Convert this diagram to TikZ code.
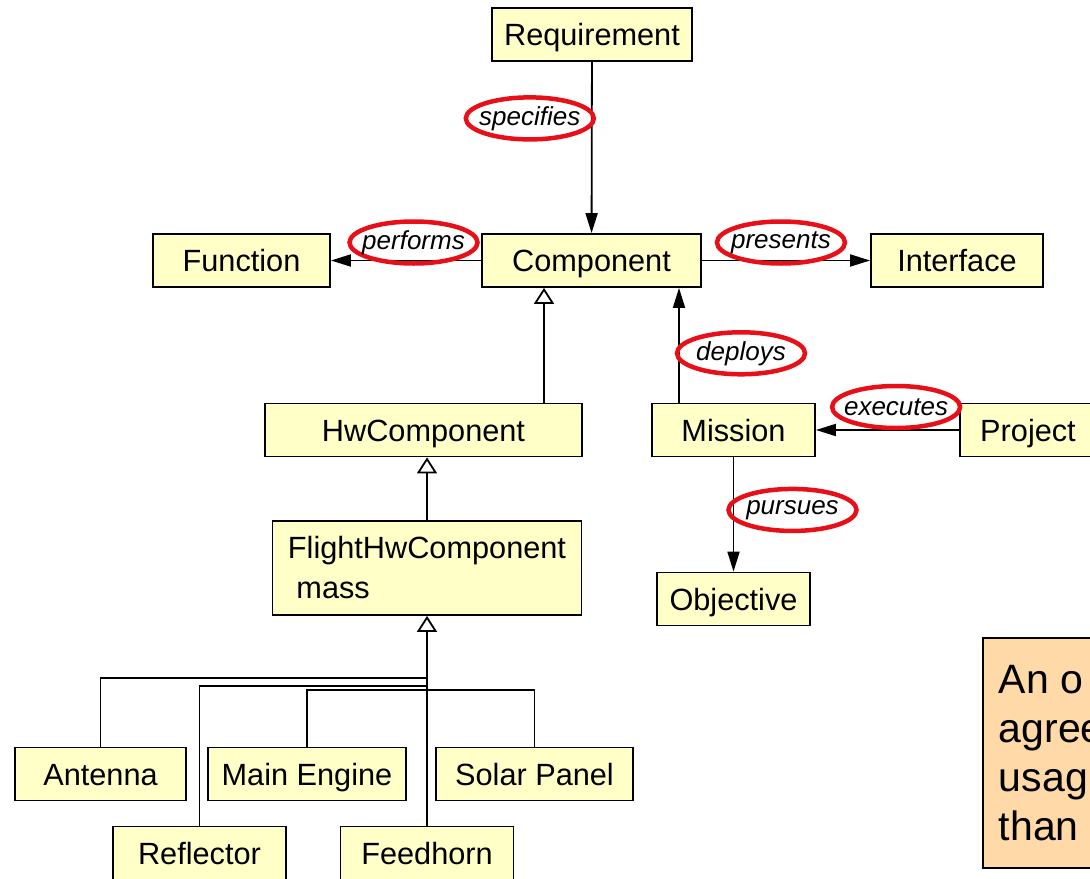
\documentclass[tikz,border=0pt]{standalone}
\usepackage{fontspec}
\setmainfont{Liberation Sans}
\usetikzlibrary{arrows.meta,shapes.geometric}
\definecolor{clsfill}{RGB}{255,255,200}
\definecolor{notefill}{RGB}{255,217,168}
\definecolor{tagred}{RGB}{232,16,24}

\begin{document}
\begin{tikzpicture}[%
		x=1bp, y=-1bp,
		line width=1.8bp,
		assoc/.style={-{Triangle[length=20bp,width=12bp]}},
		gen/.style={-{Triangle[open,length=16bp,width=20bp,fill=white]}},
		cls/.style={%
			draw,
			fill=clsfill,
			minimum height=53bp,
			inner sep=0pt,
			text height=22bp,
			text depth=0pt,
			font=\fontsize{30.7bp}{40bp}\selectfont
		},
		tag/.style={%
			ellipse,
			draw=tagred,
			line width=4.5bp,
			minimum width=128bp,
			minimum height=42bp,
			inner sep=-12bp,
			font=\fontsize{26bp}{30bp}\selectfont\itshape
		},
		note/.style={%
			draw,
			fill=notefill,
			anchor=north west,
			align=left,
			minimum height=230bp,
			inner xsep=16bp,
			inner ysep=0pt,
			font=\fontsize{41bp}{49bp}\selectfont
		}
		]
		\useasboundingbox (0,0) rectangle (1090,879);

		\node[cls, minimum width=200bp] (req)     at (592,34.5)   {Requirement};
		\node[cls, minimum width=177bp] (func)    at (241.5,260.5) {Function};
		\node[cls, minimum width=219bp] (comp)    at (591.5,260.5) {Component};
		\node[cls, minimum width=172bp] (iface)   at (957,260.5)   {Interface};
		\node[cls, minimum width=317bp] (hw)      at (423.5,430)   {HwComponent};
		\node[cls, minimum width=163bp] (mission) at (733.5,430)   {Mission};
		\node[cls, minimum width=136bp] (proj)    at (1028,430)    {Project};
		\node[cls, minimum width=309bp, minimum height=94bp, text height=, text depth=, align=left]
			(flight) at (427,568) {FlightHwComponent\\~mass};
		\node[cls, minimum width=153bp] (obj)     at (733.5,599)   {Objective};
		\node[cls, minimum width=171bp] (ant)     at (100.5,774)   {Antenna};
		\node[cls, minimum width=198bp] (eng)     at (307,774)     {Main Engine};
		\node[cls, minimum width=197bp] (solar)   at (534.5,774)   {Solar Panel};
		\node[cls, minimum width=173bp] (refl)    at (199.5,853)   {Reflector};
		\node[cls, minimum width=173bp] (feed)    at (427,853)     {Feedhorn};
		\node[note] (remark) at (982,637) {An o\\agree\\usag\\than};

		% associations
		\path (req) edge[assoc] node[tag, pos=.33, xshift=-62bp] {specifies} (comp)
		(comp) edge[assoc] node[tag, pos=.45, yshift=18bp] {performs} (func)
		(comp) edge[assoc] node[tag, pos=.47, yshift=18bp] {presents} (iface)
		([xshift=-54.5bp]mission.north) edge[assoc] node[tag, pos=.43, xshift=62bp] {deploys}
			([xshift=-54.5bp]mission.north |- comp.south)
		(proj) edge[assoc] node[tag, pos=.44, yshift=23bp] {executes} (mission)
		(mission) edge[assoc] node[tag, pos=.46, xshift=59bp] {pursues} (obj);

		% generalisations
		\draw[gen] ([xshift=120.5bp]hw.north) -- ([xshift=120.5bp]hw.north |- comp.south);
		\draw[gen] (flight.north) -- (flight.north |- hw.south);
		\draw[gen] (feed) -- (flight.south);
		\draw (ant) |- ([yshift=-62bp]flight.south);
		\draw (refl) |- ([yshift=-70bp]flight.south);
		\draw (eng) |- ([yshift=-74bp]flight.south) -| (solar);
\end{tikzpicture}
\end{document}
